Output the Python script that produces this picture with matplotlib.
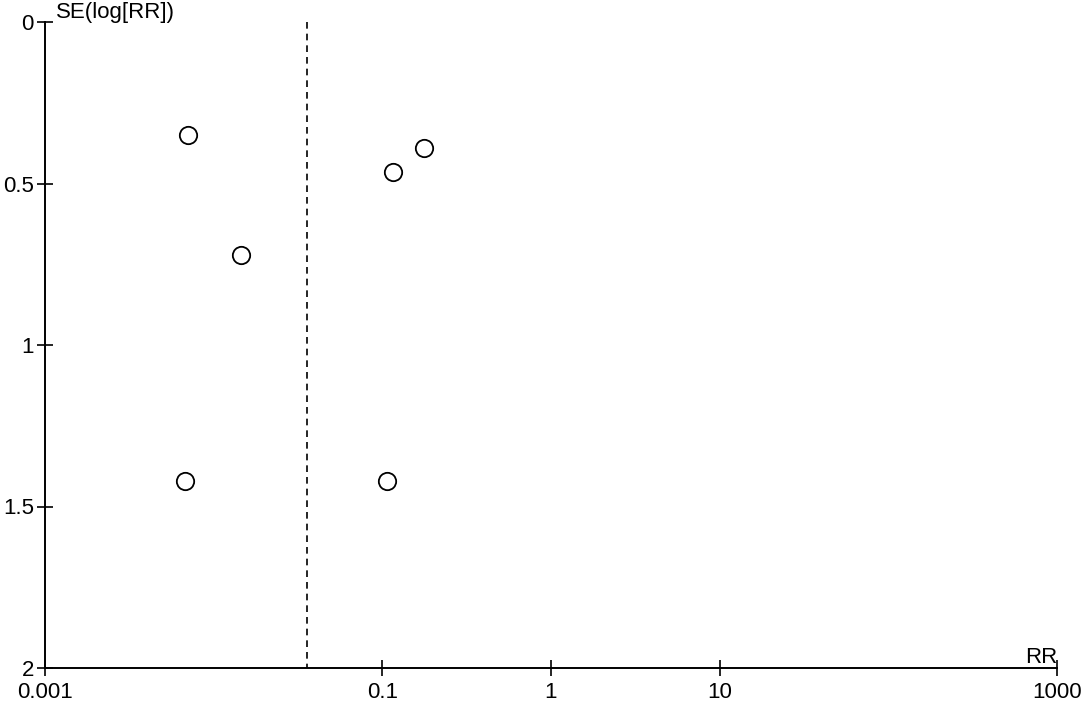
import matplotlib
matplotlib.use("Agg")
import matplotlib.pyplot as plt

# Data
rr_values = [0.0070, 0.0145, 0.0068, 0.106, 0.116, 0.177]
se_values = [0.350, 0.721, 1.421, 1.421, 0.464, 0.390]
pooled_rr = 0.036
x_ticks = [0.001, 0.1, 1, 10, 1000]
x_tick_labels = ["0.001", "0.1", "1", "10", "1000"]
y_ticks = [0, 0.5, 1, 1.5, 2]
y_tick_labels = ["0", "0.5", "1", "1.5", "2"]

plt.rcParams['font.family'] = ['Liberation Sans', 'DejaVu Sans']

fig = plt.figure(figsize=(10.84, 7.02), dpi=100)
ax = fig.add_axes([45/1084, 1-668/702, (1057-45)/1084, (668-22)/702])

ax.set_xscale('log')
ax.set_xlim(0.001, 1000)
ax.set_ylim(2, 0)

ax.plot([pooled_rr, pooled_rr], [0, 2], color='black', linestyle=(0, (4, 3)), linewidth=1.2)
ax.plot(rr_values, se_values, linestyle='none', marker='o', markersize=12.5,
        markerfacecolor='white', markeredgecolor='black', markeredgewidth=1.3)

for s in ['top', 'right']:
    ax.spines[s].set_visible(False)
for s in ['left', 'bottom']:
    ax.spines[s].set_linewidth(1.4)

ax.set_xticks(x_ticks)
ax.set_xticklabels(x_tick_labels)
ax.xaxis.set_minor_locator(matplotlib.ticker.NullLocator())
ax.set_yticks(y_ticks)
ax.set_yticklabels(y_tick_labels)
ax.tick_params(axis='both', direction='inout', length=12, width=1.2, labelsize=16, colors='black')
ax.tick_params(axis='x', pad=4)
ax.tick_params(axis='y', pad=2)

ax.text(0.00116, -0.0124, "SE(log[RR])", fontsize=16, ha='left', va='baseline', clip_on=False)
ax.text(1000, 1.984, "RR", fontsize=16, ha='right', va='baseline', clip_on=False)

fig.savefig("out.png", dpi=100)
